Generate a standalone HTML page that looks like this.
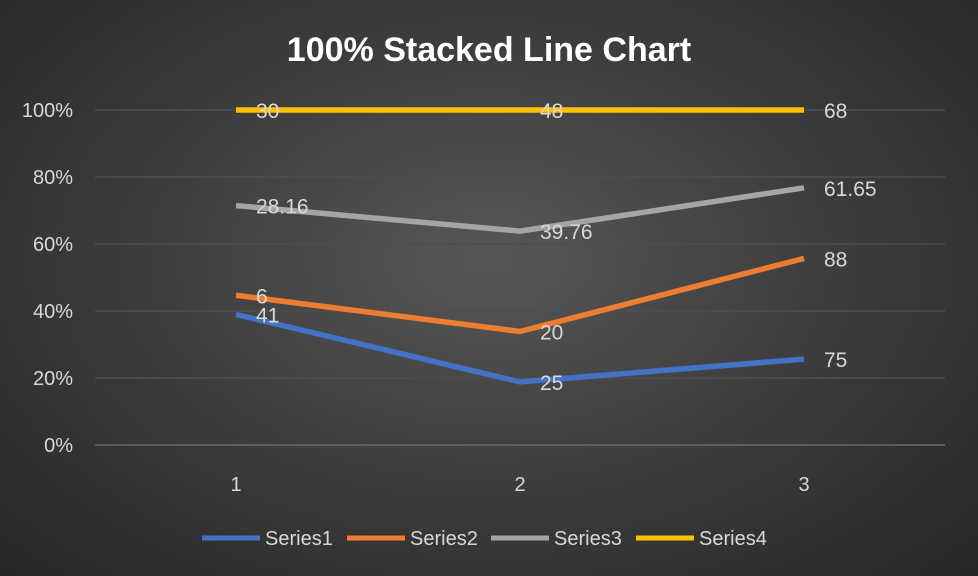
<!DOCTYPE html>
<html><head><meta charset="utf-8"><style>
html,body{margin:0;padding:0;}
body{width:978px;height:576px;overflow:hidden;font-family:"Liberation Sans",sans-serif;}
#chart{width:978px;height:576px;display:block;background:radial-gradient(ellipse at 50% 45%,#575757 0%,#3f3f3f 45%,#262626 100%);}
</style></head><body>
<svg id="chart" width="978" height="576" xmlns="http://www.w3.org/2000/svg">
<text x="489" y="61" text-anchor="middle" fill="#ffffff" font-size="34" font-weight="bold">100% Stacked Line Chart</text>
<g id="grid"></g><g id="lines"></g><g id="labels"></g><g id="legend"></g>
</svg>
<script>
const categories = ["1","2","3"];
const seriesNames = ["Series1","Series2","Series3","Series4"];
const series1 = [41,25,75];
const series2 = [6,20,88];
const series3 = [28.16,39.76,61.65];
const series4 = [30,48,68];
const yTicks = [0,20,40,60,80,100];
const colors = ["#4472c4","#ed7d31","#a5a5a5","#ffc000"];
const NS="http://www.w3.org/2000/svg";
const svg=document.getElementById('chart');
const all=[series1,series2,series3,series4];
const x0=236,x1=804,yBottom=445,yTop=110,gl=95,gr=945;
function xs(i){return x0+(x1-x0)*i/(categories.length-1);}
function ys(p){return yBottom-(yBottom-yTop)*p/100;}
function mk(tag,attrs,parent){const e=document.createElementNS(NS,tag);for(const k in attrs)e.setAttribute(k,attrs[k]);parent.appendChild(e);return e;}
const grid=document.getElementById('grid');
yTicks.forEach(t=>{
  const l=mk('line',{x1:gl,x2:gr,y1:ys(t),y2:ys(t),stroke:t===0?'#6a6a6a':'#4e4e4e','stroke-width':1.5},grid);
  
  
  const tx=mk('text',{x:73,y:ys(t)+7,'text-anchor':'end',fill:'#d9d9d9','font-size':20},grid);
  tx.textContent=t+'%';
  
  
});
categories.forEach((c,i)=>{
  const tx=mk('text',{x:xs(i),y:491,'text-anchor':'middle',fill:'#d9d9d9','font-size':20},grid);
  tx.textContent=c;
  
  
});
const totals=categories.map((c,i)=>all.reduce((s,a)=>s+a[i],0));
const cum=categories.map(()=>0);
const lines=document.getElementById('lines'),labels=document.getElementById('labels');
all.forEach((arr,si)=>{
  const pts=arr.map((v,i)=>{cum[i]+=v;return [xs(i),ys(cum[i]/totals[i]*100)];});
  const pl=mk('polyline',{points:pts.map(p=>p.join(',')).join(' '),fill:'none',stroke:colors[si],'stroke-width':5.5,'stroke-linejoin':'round'},lines);
  
  
  arr.forEach((v,i)=>{
    const t=mk('text',{x:pts[i][0]+20,y:pts[i][1]+8,fill:'#d9d9d9','font-size':21},labels);
    t.textContent=String(v);
    
    
  });
});
const legend=document.getElementById('legend');
const lx=[202,347,491,636];
seriesNames.forEach((n,i)=>{
  const g=mk('g',{},legend);
  
  
  mk('line',{x1:lx[i],x2:lx[i]+58,y1:538,y2:538,stroke:colors[i],'stroke-width':5},g);
  const t=mk('text',{x:lx[i]+63,y:545,fill:'#d9d9d9','font-size':20},g);
  t.textContent=n;
});
</script>
</body></html>
